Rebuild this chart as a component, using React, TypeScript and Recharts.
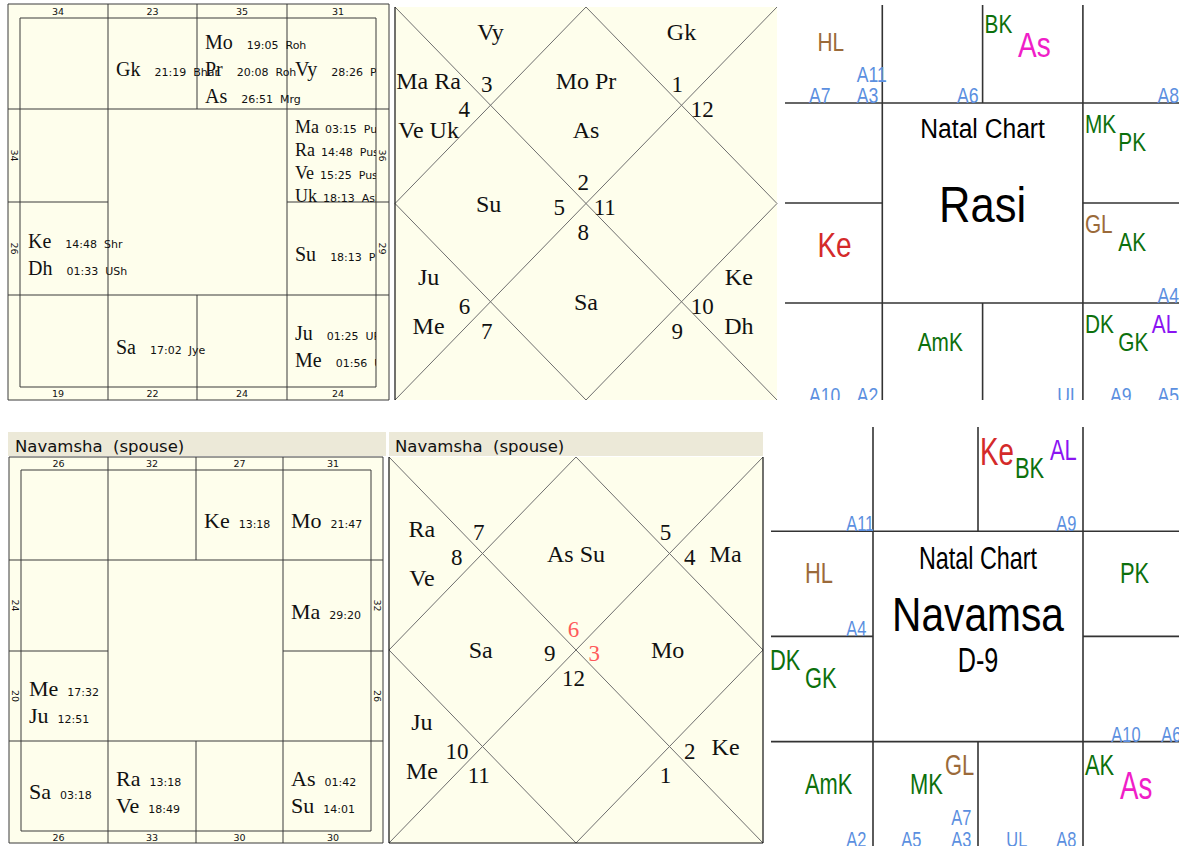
import { ScatterChart, Scatter, XAxis, YAxis, ReferenceLine, ReferenceArea } from 'recharts';

const W = 1179;
const H = 846;

// ---------- values (signs: 1 = Aries ... 12 = Pisces) ----------
const rasiNames = ['Gk', 'Mo', 'Pr', 'As', 'Vy', 'Ma', 'Ra', 'Ve', 'Uk', 'Su', 'Ju', 'Me', 'Sa', 'Ke', 'Dh'];
const rasiSigns = [1, 2, 2, 2, 3, 4, 4, 4, 4, 5, 6, 6, 8, 10, 10];
const rasiDegrees = ['21:19', '19:05', '20:08', '26:51', '28:26', '03:15', '14:48', '15:25', '18:13', '18:13', '01:25', '01:56', '17:02', '14:48', '01:33'];
const rasiNakshatras = ['Bhar', 'Roh', 'Roh', 'Mrg', 'Pun', 'Pus', 'Pus', 'Pus', 'Asl', 'PPh', 'UPh', 'UPh', 'Jye', 'Shr', 'USh'];
const rasiBindus = [23, 35, 31, 36, 29, 24, 24, 22, 19, 26, 34, 34];

const navNames = ['Ke', 'Mo', 'Ma', 'As', 'Su', 'Ra', 'Ve', 'Sa', 'Me', 'Ju'];
const navSigns = [2, 3, 4, 6, 6, 8, 8, 9, 10, 10];
const navDegrees = ['13:18', '21:47', '29:20', '01:42', '14:01', '13:18', '18:49', '03:18', '17:32', '12:51'];
const navBindus = [32, 27, 31, 32, 26, 30, 30, 33, 26, 20, 24, 26];

// north indian style, houses 1..12
const rasiLagna = 2;
const rasiHouses = [['Mo', 'Pr', 'As'], ['Vy'], ['Ma', 'Ra', 'Ve', 'Uk'], ['Su'], ['Ju', 'Me'], [], ['Sa'], [], ['Ke', 'Dh'], [], [], ['Gk']];
const navLagna = 6;
const navHouses = [['As', 'Su'], [], ['Ra', 'Ve'], ['Sa'], ['Ju', 'Me'], [], [], [], ['Ke'], ['Mo'], ['Ma'], []];
const navMarkedSigns = [6, 3];

// JH style charts, per sign Aries..Pisces ('' = skipped slot)
const rasiJhMain = [[], ['BK', 'As'], [], ['MK', 'PK'], ['GL', 'AK'], ['DK', 'GK', 'AL'], [], ['AmK'], [], ['Ke'], [], ['HL']];
const rasiJhArudhas = [['A6'], [], ['A8'], [], ['A4'], ['A9', 'A5'], ['UL'], [], ['A10', 'A2'], [], [], ['A7', 'A3', 'A11']];
const navJhMain = [[], ['Ke', 'BK', 'AL'], [], ['PK'], [], ['AK', 'As'], [], ['', 'MK', 'GL'], ['AmK'], ['DK', 'GK'], ['HL'], []];
const navJhArudhas = [[], ['A9'], [], [], ['A10', 'A6'], [], ['UL', 'A8'], ['A5', 'A3', 'A7'], ['A2'], [], ['A4'], ['A11']];
const rasiTitles = ['Natal Chart', 'Rasi'];
const navTitles = ['Natal Chart', 'Navamsa', 'D-9'];
const headerTitle = 'Navamsha  (spouse)';

// ---------- styling / layout ----------
const SERIF = '"Liberation Serif", "Times New Roman", serif';
const SANS = '"DejaVu Sans", Verdana, sans-serif';
const ARIAL = '"Liberation Sans", Arial, sans-serif';
const INK = '#111';
const LINE = '#3a3a3a';
const CREAM = '#fefeec';
const HEADER = '#ece9d8';

const PLANETS = ['As', 'Su', 'Mo', 'Ma', 'Me', 'Ju', 'Ve', 'Sa', 'Ra', 'Ke'];
const KARAKAS = ['AK', 'AmK', 'BK', 'MK', 'PK', 'GK', 'DK'];

function jhColor(label: string) {
  if (label === 'As') return '#f01ec8';
  if (label === 'Ke') return '#d42a2a';
  if (KARAKAS.includes(label)) return '#0c700c';
  if (label === 'HL' || label === 'GL') return '#9b6a3a';
  if (label === 'AL') return '#8a14f2';
  return '#5b8fe0';
}

// sign -> [row, col] in the south indian square
const SOUTH_CELL: [number, number][] = [
  [0, 1], [0, 2], [0, 3], [1, 3], [2, 3], [3, 3],
  [3, 2], [3, 1], [3, 0], [2, 0], [1, 0], [0, 0],
];

type Mark = {
  id: string;
  x: number;
  y: number;
  text: string;
  family: string;
  size: number;
  color: string;
  anchor?: 'start' | 'middle' | 'end';
  sx?: number;
  rotate?: number;
  central?: boolean;
  sub?: string;
  subDx?: number;
  subSize?: number;
  clip?: number[];
};

type Seg = number[];

const rasiSouth = { ol: 8, ot: 4, or: 389, ob: 400, xs: [20, 108, 197, 287, 376], ys: [18, 109, 202, 295, 387], font: 20, gap: 14 };
const navSouth = { ol: 9, ot: 457, or: 383, ob: 843, xs: [21, 108, 196, 283, 371], ys: [470, 560, 651, 741, 831], font: 22, gap: 9 };

const rasiNorth = { l: 395, t: 7, w: 382, h: 393 };
const navNorth = { l: 389, t: 457, w: 374, h: 386 };
const HOUSE_TEXT = [[0.5, 0.25], [0.25, 0.064], [0.088, 0.25], [0.245, 0.5], [0.088, 0.75], [0.25, 0.936], [0.5, 0.75], [0.75, 0.936], [0.9, 0.75], [0.745, 0.5], [0.9, 0.25], [0.75, 0.064]];
const HOUSE_NUM = [[0.493, 0.447], [0.24, 0.196], [0.181, 0.26], [0.43, 0.51], [0.182, 0.762], [0.24, 0.826], [0.493, 0.573], [0.739, 0.826], [0.804, 0.762], [0.549, 0.51], [0.804, 0.26], [0.739, 0.196]];
const DIAMONDS = [0, 3, 6, 9];

const rasiJh = {
  ox: 782, oy: 3, cw: 100.3, ch: 100, vx: 785, vy: 5, vr: 1179, vb: 400,
  small: 26, big: 35, aru: 22, sx: 0.8, clip: [782, 0, 1179, 400],
  titleSize: [28, 50], titleBase: [0.35, 1.19], titleSx: [0.88, 0.87],
};
const navJh = {
  ox: 768, oy: 426, cw: 105, ch: 105.2, vx: 771, vy: 427, vr: 1179, vb: 846,
  small: 30, big: 38, aru: 22.5, sx: 0.73, clip: [768, 427, 1179, 846],
  titleSize: [32, 49, 35], titleBase: [0.356, 0.946, 1.34], titleSx: [0.73, 0.83, 0.72],
};
const ARUDHA_SLOTS = [[], [[1, 0]], [[0, 0], [1, 0]], [[0, 0], [1, 0], [1, 1]]];

function southMarks(b: typeof rasiSouth, key: string, names: string[], signs: number[], degrees: string[], naks: string[] | null, bindus: number[]) {
  const out: Mark[] = [];
  const clip = [b.ol, b.ot, b.xs[4], b.ob];
  for (let s = 1; s <= 12; s++) {
    const [r, c] = SOUTH_CELL[s - 1];
    const idx = names.map((_, i) => i).filter((i) => signs[i] === s);
    const n = idx.length;
    const size = n >= 4 ? b.font - 2 : b.font;
    const step = Math.min(27, (b.ys[r + 1] - b.ys[r]) / Math.max(n, 1));
    const mid = (b.ys[r] + b.ys[r + 1]) / 2 + 6 + size * 0.33;
    idx.forEach((i, k) => {
      out.push({
        id: `${key}p${i}`,
        x: b.xs[c] + 8,
        y: mid + (k - (n - 1) / 2) * step,
        text: names[i],
        family: SERIF,
        size,
        color: INK,
        sub: naks ? `${degrees[i]}  ${naks[i]}` : degrees[i],
        subDx: n >= 4 ? b.gap - 8 : b.gap,
        subSize: 11,
        clip,
      });
    });
    let bx: number;
    let by: number;
    let rot = 0;
    if (r === 0 || r === 3) {
      const x0 = c === 0 ? b.ol : b.xs[c];
      const x1 = c === 3 ? b.or : b.xs[c + 1];
      bx = (x0 + x1) / 2;
      by = r === 0 ? (b.ot + b.ys[0]) / 2 : (b.ys[4] + b.ob) / 2;
    } else {
      bx = c === 0 ? (b.ol + b.xs[0]) / 2 : (b.xs[4] + b.or) / 2;
      by = (b.ys[r] + b.ys[r + 1]) / 2;
      rot = 90;
    }
    out.push({ id: `${key}b${s}`, x: bx, y: by, text: String(bindus[s - 1]), family: SANS, size: 9.5, color: INK, anchor: 'middle', rotate: rot, central: true });
  }
  return out;
}

function southLines(b: typeof rasiSouth): Seg[] {
  const [x0, x1, x2, x3, x4] = b.xs;
  const [y0, y1, y2, y3, y4] = b.ys;
  return [
    [b.ol, b.ot, b.or, b.ot], [b.ol, b.ob, b.or, b.ob], [b.ol, b.ot, b.ol, b.ob], [b.or, b.ot, b.or, b.ob],
    [x0, y0, x4, y0], [x0, y4, x4, y4], [x0, y0, x0, y4], [x4, y0, x4, y4],
    [x1, b.ot, x1, b.ob], [x3, b.ot, x3, b.ob], [x2, b.ot, x2, y1], [x2, y3, x2, b.ob],
    [b.ol, y1, b.or, y1], [b.ol, y3, b.or, y3], [b.ol, y2, x1, y2], [x3, y2, b.or, y2],
  ];
}

function northMarks(b: typeof rasiNorth, key: string, lagna: number, houses: string[][], marked: number[]) {
  const out: Mark[] = [];
  houses.forEach((pl, h) => {
    const n = pl.length;
    let lines: string[] = [];
    if (n > 2) {
      for (let i = 0; i < n; i += 2) lines.push(pl.slice(i, i + 2).join(' '));
    } else if (DIAMONDS.includes(h)) {
      lines = n ? [pl.join(' ')] : [];
    } else {
      lines = pl;
    }
    const [fx, fy] = HOUSE_TEXT[h];
    const step = b.h / 8;
    lines.forEach((ln, k) => {
      out.push({
        id: `${key}h${h}_${k}`,
        x: b.l + fx * b.w,
        y: b.t + fy * b.h + (k - (lines.length - 1) / 2) * step + 8,
        text: ln,
        family: SERIF,
        size: 24,
        color: INK,
        anchor: 'middle',
      });
    });
    const sign = ((lagna - 1 + h) % 12) + 1;
    const [nx, ny] = HOUSE_NUM[h];
    out.push({
      id: `${key}n${h}`,
      x: b.l + nx * b.w,
      y: b.t + ny * b.h + 7.6,
      text: String(sign),
      family: SERIF,
      size: 23,
      color: marked.includes(sign) ? '#ff5a5a' : INK,
      anchor: 'middle',
    });
  });
  return out;
}

function northLines(b: typeof rasiNorth): Seg[] {
  const r = b.l + b.w;
  const bt = b.t + b.h;
  const mx = b.l + b.w / 2;
  const my = b.t + b.h / 2;
  return [
    [b.l, b.t, r, bt], [r, b.t, b.l, bt],
    [mx, b.t, r, my], [r, my, mx, bt], [mx, bt, b.l, my], [b.l, my, mx, b.t],
  ];
}

function jhMarks(b: typeof navJh, key: string, main: string[][], arudhas: string[][], titles: string[]) {
  const out: Mark[] = [];
  main.forEach((labels, s) => {
    const [r, c] = SOUTH_CELL[s];
    const n = labels.length;
    labels.forEach((lab, i) => {
      if (!lab) return;
      const slot = n === 1 ? 1 : i;
      const size = PLANETS.includes(lab) ? b.big : b.small;
      const top = b.oy + r * b.ch + (slot % 2 ? 0.29 : 0.115) * b.ch;
      out.push({
        id: `${key}m${s}_${i}`,
        x: b.ox + c * b.cw + 2 + (slot * b.cw) / 3,
        y: top + 0.716 * size,
        text: lab,
        family: ARIAL,
        size,
        color: jhColor(lab),
        sx: b.sx,
        clip: b.clip,
      });
    });
  });
  arudhas.forEach((labels, s) => {
    const [r, c] = SOUTH_CELL[s];
    const slots = ARUDHA_SLOTS[labels.length];
    labels.forEach((lab, i) => {
      const [j, row] = slots[i];
      out.push({
        id: `${key}a${s}_${i}`,
        x: b.ox + c * b.cw + (j === 0 ? 0.27 : 0.745) * b.cw,
        y: b.oy + (r + 1) * b.ch - row * 0.205 * b.ch,
        text: lab,
        family: ARIAL,
        size: b.aru,
        color: jhColor(lab),
        sx: b.sx,
        clip: b.clip,
      });
    });
  });
  titles.forEach((t, i) => {
    out.push({
      id: `${key}t${i}`,
      x: b.ox + 2 * b.cw,
      y: b.oy + b.ch + b.titleBase[i] * b.ch,
      text: t,
      family: ARIAL,
      size: b.titleSize[i],
      color: '#000',
      anchor: 'middle',
      sx: b.titleSx[i],
    });
  });
  return out;
}

function jhLines(b: typeof navJh): Seg[] {
  const xs = [1, 2, 3].map((k) => b.ox + k * b.cw);
  const ys = [1, 2, 3].map((k) => b.oy + k * b.ch);
  return [
    [xs[0], b.vy, xs[0], b.vb], [xs[2], b.vy, xs[2], b.vb],
    [xs[1], b.vy, xs[1], ys[0]], [xs[1], ys[2], xs[1], b.vb],
    [b.vx, ys[0], b.vr, ys[0]], [b.vx, ys[2], b.vr, ys[2]],
    [b.vx, ys[1], xs[0], ys[1]], [xs[2], ys[1], b.vr, ys[1]],
  ];
}

const headerMarks: Mark[] = [
  { id: 'hd1', x: 15, y: 452, text: headerTitle, family: SANS, size: 16.5, color: INK },
  { id: 'hd2', x: 395, y: 452, text: headerTitle, family: SANS, size: 16.5, color: INK },
];

const rasiSouthMarks = southMarks(rasiSouth, 'rs', rasiNames, rasiSigns, rasiDegrees, rasiNakshatras, rasiBindus);
const navSouthMarks = southMarks(navSouth, 'ns', navNames, navSigns, navDegrees, null, navBindus);
const rasiNorthMarks = northMarks(rasiNorth, 'rn', rasiLagna, rasiHouses, []);
const navNorthMarks = northMarks(navNorth, 'nn', navLagna, navHouses, navMarkedSigns);
const rasiJhMarks = jhMarks(rasiJh, 'rj', rasiJhMain, rasiJhArudhas, rasiTitles);
const navJhMarks = jhMarks(navJh, 'nj', navJhMain, navJhArudhas, navTitles);

const gridLines: { seg: Seg; color: string; width: number }[] = [
  ...southLines(rasiSouth).map((seg) => ({ seg, color: LINE, width: 1 })),
  ...southLines(navSouth).map((seg) => ({ seg, color: LINE, width: 1 })),
  ...northLines(rasiNorth).map((seg) => ({ seg, color: '#6e6e6e', width: 1 })),
  ...northLines(navNorth).map((seg) => ({ seg, color: '#6e6e6e', width: 1 })),
  ...jhLines(rasiJh).map((seg) => ({ seg, color: '#333', width: 1.6 })),
  ...jhLines(navJh).map((seg) => ({ seg, color: '#333', width: 1.6 })),
  // chart borders of the diamond charts
  { seg: [395, 7, 395, 400], color: '#111', width: 1.2 },
  { seg: [389, 457, 389, 843], color: '#111', width: 1.2 },
  { seg: [763, 457, 763, 843], color: '#111', width: 1.2 },
  { seg: [389, 843, 763, 843], color: '#111', width: 1.2 },
];

const panels = [
  { x1: 8, x2: 389, y1: 4, y2: 400, fill: CREAM },
  { x1: 395, x2: 777, y1: 7, y2: 400, fill: CREAM },
  { x1: 9, x2: 383, y1: 457, y2: 843, fill: CREAM },
  { x1: 389, x2: 763, y1: 457, y2: 843, fill: CREAM },
  { x1: 8, x2: 386, y1: 432, y2: 456, fill: HEADER },
  { x1: 389, x2: 763, y1: 432, y2: 456, fill: HEADER },
];

function MarkShape(props: any) {
  const { cx, cy, payload } = props;
  const m: Mark = payload;
  if (!m || cx == null || cy == null) return <g />;
  let transform: string | undefined;
  if (m.rotate) transform = `rotate(${m.rotate} ${cx} ${cy})`;
  else if (m.sx && m.sx !== 1) transform = `translate(${cx} ${cy}) scale(${m.sx} 1) translate(${-cx} ${-cy})`;
  const clipId = m.clip ? `clip-${m.id}` : undefined;
  return (
    <g clipPath={clipId ? `url(#${clipId})` : undefined}>
      {m.clip && (
        <defs>
          <clipPath id={clipId}>
            <rect x={m.clip[0]} y={m.clip[1]} width={m.clip[2] - m.clip[0]} height={m.clip[3] - m.clip[1]} />
          </clipPath>
        </defs>
      )}
      <text
        x={cx}
        y={cy}
        transform={transform}
        fontFamily={m.family}
        fontSize={m.size}
        fill={m.color}
        textAnchor={m.anchor ?? 'start'}
        dominantBaseline={m.central ? 'central' : undefined}
        style={{ whiteSpace: 'pre' }}
      >
        {m.text}
        {m.sub && (
          <tspan dx={m.subDx} fontFamily={SANS} fontSize={m.subSize}>
            {m.sub}
          </tspan>
        )}
      </text>
    </g>
  );
}

export default function App() {
  return (
    <div style={{ position: 'absolute', left: 0, top: 0, background: '#fff' }}>
      <ScatterChart width={W} height={H} margin={{ top: 0, right: 0, bottom: 0, left: 0 }}>
        <XAxis type="number" dataKey="x" domain={[0, W]} hide allowDataOverflow />
        <YAxis type="number" dataKey="y" domain={[0, H]} reversed hide allowDataOverflow />
        {panels.map((p, i) => (
          <ReferenceArea key={`p${i}`} x1={p.x1} x2={p.x2} y1={p.y1} y2={p.y2} fill={p.fill} fillOpacity={1} stroke="none" ifOverflow="visible" />
        ))}
        {gridLines.map((l, i) => (
          <ReferenceLine
            key={`l${i}`}
            segment={[{ x: l.seg[0], y: l.seg[1] }, { x: l.seg[2], y: l.seg[3] }]}
            stroke={l.color}
            strokeWidth={l.width}
            ifOverflow="visible"
          />
        ))}
        <Scatter name="rasi-south" data={rasiSouthMarks} shape={MarkShape} isAnimationActive={false} />
        <Scatter name="rasi-north" data={rasiNorthMarks} shape={MarkShape} isAnimationActive={false} />
        <Scatter name="rasi-jh" data={rasiJhMarks} shape={MarkShape} isAnimationActive={false} />
        <Scatter name="nav-south" data={navSouthMarks} shape={MarkShape} isAnimationActive={false} />
        <Scatter name="nav-north" data={navNorthMarks} shape={MarkShape} isAnimationActive={false} />
        <Scatter name="nav-jh" data={navJhMarks} shape={MarkShape} isAnimationActive={false} />
        <Scatter name="headers" data={headerMarks} shape={MarkShape} isAnimationActive={false} />
      </ScatterChart>
    </div>
  );
}
